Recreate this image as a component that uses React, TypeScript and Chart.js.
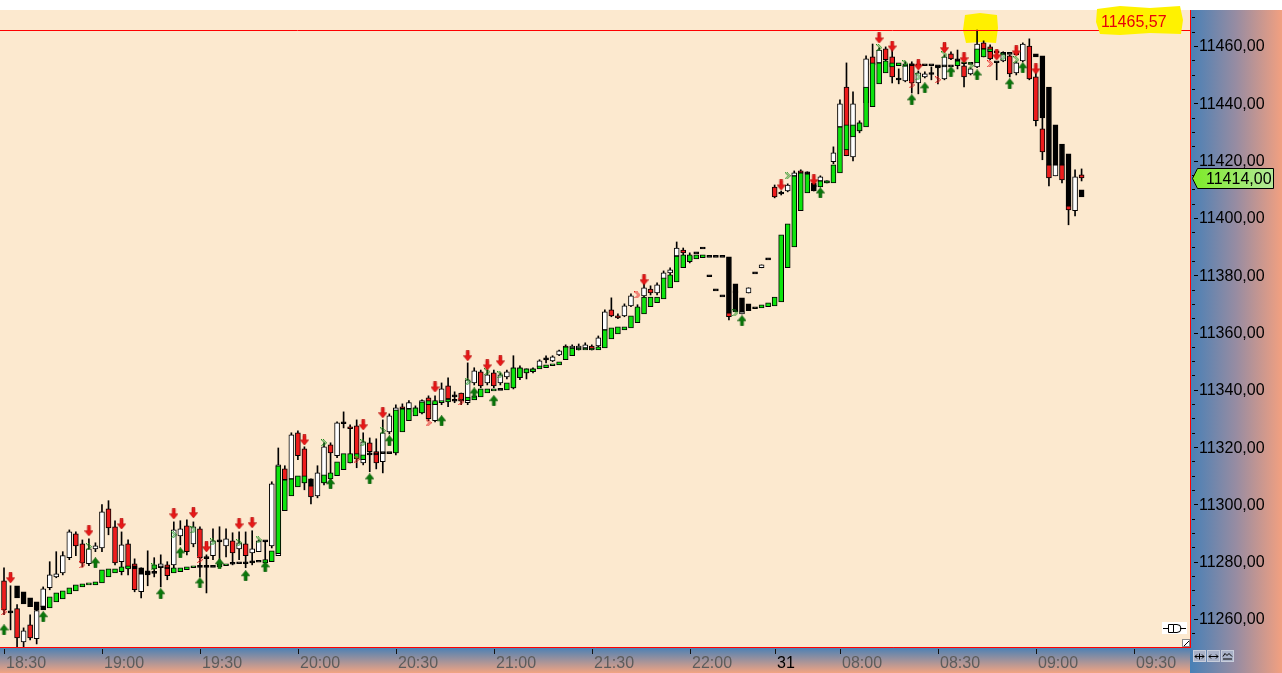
import React, { useEffect, useRef } from 'react';
import { Chart, registerables } from 'chart.js';

Chart.register(...registerables);

const W = 1282;
const H = 673;

// ---- price candles (2-minute bars) ----
const priceOpen = [
  11273.3, 11262.5, 11263.6, 11252.0, 11258.0, 11253.1, 11264.3, 11270.9, 11274.7, 11276.1,
  11281.4, 11289.7, 11286.2, 11279.3, 11284.5, 11284.8, 11298.5, 11292.2, 11280.0, 11286.2,
  11279.3, 11269.5, 11276.1, 11276.3, 11277.9, 11278.9, 11278.9, 11289.0, 11292.5, 11286.2,
  11291.5, 11281.4, 11282.1, 11287.3, 11285.5, 11287.3, 11284.5, 11286.2, 11283.1, 11283.5,
  11287.3, 11285.5, 11282.1, 11312.4, 11308.9, 11325.0, 11319.4, 11306.5, 11303.0, 11307.5,
  11320.8, 11317.0, 11328.5, 11327.1, 11327.4, 11314.5, 11321.5, 11318.4, 11314.9, 11325.3,
  11318.0, 11334.1, 11333.4, 11332.3, 11331.9, 11337.2, 11329.2, 11335.5, 11341.4, 11337.9,
  11338.9, 11335.5, 11342.4, 11346.3, 11342.4, 11345.9, 11342.4, 11344.5, 11340.7, 11344.2,
  11345.9, 11346.3, 11348.0, 11350.8, 11350.1, 11352.2, 11355.3, 11354.6, 11354.6, 11354.6,
  11355.3, 11355.3, 11360.9, 11367.9, 11365.8, 11365.8, 11369.3, 11364.4, 11372.8, 11375.2,
  11373.8, 11378.7, 11380.8, 11386.7, 11388.8, 11385.4, 11387.8, 11389.5, 11379.8, 11374.9,
  11372.8, 11366.9, 11374.2, 11366.5, 11373.8, 11380.8, 11382.6, 11385.7, 11410.8, 11408.7,
  11409.4, 11414.7, 11416.4, 11415.7, 11411.2, 11412.9, 11412.6, 11419.6, 11431.8, 11445.7,
  11421.3, 11430.4, 11440.2, 11456.2, 11454.1, 11459.0, 11456.2, 11448.5, 11447.8, 11453.8,
  11447.1, 11449.2, 11450.4, 11452.7, 11448.5, 11457.3, 11455.2, 11453.1, 11450.3, 11452.7,
  11461.1, 11459.7, 11454.5, 11454.8, 11456.6, 11450.6, 11454.8, 11460.0, 11449.2, 11431.1,
  11418.5, 11414.7, 11418.5, 11404.2, 11402.5, 11415.0,
];
const priceHigh = [
  11277.9, 11271.6, 11265.0, 11256.9, 11261.5, 11263.6, 11271.2, 11280.0, 11283.5, 11283.5,
  11291.1, 11290.4, 11287.6, 11288.0, 11286.6, 11299.9, 11301.3, 11294.3, 11290.4, 11287.6,
  11281.0, 11277.9, 11283.8, 11281.4, 11282.4, 11280.0, 11293.9, 11294.3, 11294.6, 11293.9,
  11292.2, 11282.4, 11291.5, 11292.2, 11291.5, 11290.1, 11290.4, 11290.4, 11290.8, 11287.6,
  11287.3, 11307.9, 11319.7, 11313.5, 11325.0, 11325.7, 11320.1, 11308.9, 11313.5, 11321.5,
  11321.5, 11328.8, 11332.3, 11327.8, 11329.5, 11325.0, 11323.2, 11322.9, 11329.5, 11331.6,
  11334.8, 11335.1, 11336.2, 11334.4, 11336.5, 11337.9, 11337.9, 11342.4, 11344.2, 11339.3,
  11338.9, 11349.4, 11347.7, 11346.9, 11346.9, 11346.9, 11345.9, 11346.9, 11351.9, 11348.4,
  11347.3, 11347.7, 11350.5, 11351.9, 11351.9, 11353.9, 11355.7, 11355.7, 11356.0, 11356.4,
  11355.7, 11358.8, 11367.9, 11372.1, 11366.5, 11370.0, 11373.5, 11369.7, 11377.3, 11376.3,
  11377.3, 11381.5, 11382.6, 11391.6, 11389.5, 11387.8, 11387.8, 11389.5, 11379.8, 11374.9,
  11372.8, 11366.9, 11374.2, 11367.2, 11375.6, 11380.8, 11383.6, 11385.7, 11411.5, 11409.4,
  11411.9, 11416.4, 11416.8, 11416.1, 11412.2, 11414.7, 11412.9, 11424.8, 11441.2, 11454.1,
  11444.0, 11433.9, 11456.6, 11460.7, 11459.4, 11459.7, 11459.7, 11452.0, 11454.5, 11454.5,
  11451.3, 11451.0, 11452.7, 11453.1, 11456.9, 11458.0, 11458.6, 11454.5, 11452.4, 11465.6,
  11461.8, 11460.4, 11454.5, 11458.0, 11456.9, 11454.5, 11461.1, 11462.5, 11451.0, 11434.9,
  11420.3, 11418.5, 11420.3, 11406.3, 11416.8, 11417.1,
];
const priceLow = [
  11261.5, 11256.2, 11250.3, 11250.3, 11252.7, 11251.3, 11263.6, 11270.2, 11274.4, 11275.4,
  11280.7, 11282.1, 11278.2, 11278.6, 11283.5, 11283.5, 11289.4, 11278.9, 11275.4, 11275.4,
  11269.5, 11267.4, 11271.6, 11274.7, 11271.2, 11273.7, 11277.9, 11285.9, 11282.4, 11285.2,
  11274.7, 11269.1, 11280.7, 11280.7, 11281.7, 11278.9, 11280.7, 11277.9, 11278.9, 11283.5,
  11278.2, 11284.8, 11282.1, 11307.9, 11308.2, 11315.6, 11305.1, 11300.2, 11302.3, 11306.8,
  11307.5, 11316.3, 11326.7, 11314.5, 11312.8, 11313.8, 11311.4, 11312.4, 11311.0, 11324.6,
  11317.3, 11333.0, 11333.0, 11331.6, 11331.6, 11329.2, 11328.8, 11334.8, 11334.1, 11335.5,
  11334.8, 11334.8, 11341.7, 11340.7, 11341.7, 11340.7, 11341.7, 11343.8, 11340.3, 11343.5,
  11343.8, 11345.9, 11347.7, 11349.4, 11349.8, 11351.9, 11354.3, 11354.3, 11353.9, 11354.3,
  11353.9, 11354.6, 11360.6, 11365.5, 11364.8, 11365.5, 11369.0, 11363.7, 11372.1, 11373.1,
  11373.1, 11378.0, 11380.1, 11386.1, 11386.7, 11384.3, 11387.8, 11389.5, 11379.8, 11374.9,
  11372.8, 11364.4, 11374.2, 11366.5, 11373.8, 11380.8, 11382.6, 11385.7, 11407.0, 11408.0,
  11409.1, 11414.3, 11415.4, 11415.4, 11409.4, 11412.6, 11412.2, 11418.9, 11431.4, 11421.7,
  11419.9, 11429.7, 11439.1, 11451.7, 11453.8, 11454.5, 11447.1, 11446.8, 11447.5, 11443.6,
  11443.3, 11448.9, 11448.2, 11446.8, 11448.2, 11455.2, 11452.0, 11445.7, 11449.9, 11452.4,
  11456.2, 11455.2, 11448.2, 11454.5, 11449.2, 11449.9, 11454.5, 11448.2, 11432.1, 11420.3,
  11411.2, 11414.7, 11412.2, 11397.6, 11400.7, 11412.9,
];
const priceClose = [
  11263.2, 11262.5, 11253.4, 11255.9, 11253.4, 11262.9, 11270.5, 11275.4, 11275.8, 11282.1,
  11290.4, 11285.5, 11279.6, 11284.5, 11285.5, 11297.4, 11291.8, 11279.6, 11285.9, 11277.9,
  11270.2, 11275.8, 11276.1, 11276.3, 11279.3, 11275.1, 11291.1, 11291.5, 11283.5, 11292.2,
  11281.4, 11281.4, 11287.3, 11287.3, 11288.0, 11283.1, 11286.6, 11282.1, 11284.5, 11287.3,
  11287.3, 11307.2, 11313.8, 11308.6, 11324.3, 11317.0, 11307.5, 11302.6, 11311.0, 11320.1,
  11318.0, 11328.5, 11328.5, 11326.4, 11316.3, 11321.8, 11318.4, 11314.5, 11325.0, 11330.9,
  11333.7, 11333.4, 11335.5, 11333.7, 11336.2, 11329.9, 11335.5, 11340.3, 11336.8, 11337.9,
  11336.2, 11343.5, 11346.6, 11341.4, 11345.2, 11341.4, 11345.2, 11346.3, 11347.7, 11347.7,
  11347.3, 11347.3, 11350.1, 11350.8, 11351.5, 11353.6, 11354.6, 11355.3, 11355.3, 11355.7,
  11354.3, 11358.1, 11367.2, 11365.8, 11365.1, 11369.3, 11372.8, 11368.6, 11375.6, 11373.8,
  11376.6, 11380.8, 11381.9, 11389.5, 11387.8, 11386.7, 11387.8, 11389.5, 11379.8, 11374.9,
  11372.8, 11365.5, 11374.2, 11367.2, 11375.6, 11380.8, 11383.6, 11385.7, 11407.3, 11408.7,
  11411.5, 11415.7, 11415.7, 11415.7, 11411.2, 11414.3, 11412.6, 11422.7, 11439.8, 11421.7,
  11439.8, 11433.2, 11455.5, 11453.4, 11458.6, 11455.2, 11449.2, 11448.5, 11453.1, 11447.1,
  11450.6, 11450.3, 11450.4, 11452.7, 11456.2, 11455.5, 11455.2, 11449.2, 11452.0, 11460.7,
  11459.0, 11455.5, 11454.5, 11457.3, 11450.3, 11454.1, 11460.7, 11448.5, 11433.9, 11423.0,
  11414.0, 11418.5, 11413.3, 11402.8, 11414.3, 11414.0,
];

// ---- smoothed trend bars (green up / black down) ----
const smoothOpen = [
  null, null, 11271.6, 11269.5, 11267.4, 11266.0, 11264.6, 11263.9, 11266.0, 11267.0,
  11268.8, 11269.8, 11271.2, 11271.9, 11271.9, 11272.6, 11274.7, 11276.1, 11276.5, 11277.5,
  11278.6, 11277.9, 11276.8, 11277.5, 11278.6, 11278.2, 11276.1, 11276.5, 11277.2, 11277.9,
  11278.6, 11278.6, 11278.6, 11278.2, 11278.6, 11279.6, 11280.0, 11280.0, 11280.3, 11280.3,
  11279.6, 11280.0, 11282.8, 11297.8, 11303.0, 11306.1, 11307.5, 11308.9, null, 11307.5,
  11308.9, 11310.0, 11312.1, 11314.5, 11315.9, 11315.6, 11318.0, 11318.0, 11318.4, 11318.4,
  11318.0, 11325.3, 11329.2, 11330.9, 11331.9, 11334.8, 11334.8, 11335.5, 11335.8, 11336.5,
  11336.5, 11336.2, 11336.5, 11337.5, 11338.9, 11339.6, 11340.3, 11340.0, 11340.7, 11344.2,
  11345.9, 11346.3, 11347.3, 11347.7, 11348.4, 11348.7, 11350.5, 11351.9, 11353.9, 11353.9,
  11353.9, 11353.9, 11354.6, 11357.8, 11359.5, 11360.9, 11361.6, 11363.4, 11366.5, 11369.0,
  11370.4, 11371.7, 11375.6, 11377.7, 11382.6, 11384.7, 11385.7, 11386.1, 11386.7, 11386.7,
  11386.7, 11386.4, 11377.0, 11372.1, 11370.0, 11369.0, 11368.6, 11369.0, 11369.3, 11370.7,
  11382.6, 11389.9, 11402.5, 11408.7, 11412.2, 11410.8, 11412.2, 11412.2, 11415.7, 11423.7,
  11428.3, 11430.4, 11431.8, 11438.8, 11446.8, 11450.6, 11452.7, 11453.1, 11453.1, 11453.8,
  11453.8, 11453.8, 11453.8, 11453.4, 11453.4, 11453.4, 11453.1, 11453.8, 11454.1, 11454.1,
  11456.2, 11458.0, 11458.3, 11457.6, 11457.6, 11457.6, null, null, 11457.3, 11456.6,
  11445.7, 11432.5, 11425.8, 11422.4, null, 11409.8,
];
const smoothClose = [
  null, null, 11267.4, 11265.3, 11264.3, 11263.2, 11263.2, 11267.7, 11269.1, 11269.8,
  11270.9, 11271.9, 11272.3, 11272.6, 11273.0, 11277.2, 11277.5, 11277.5, 11278.2, 11278.6,
  11277.5, 11275.8, 11275.4, 11278.9, 11277.9, 11277.5, 11277.9, 11277.9, 11278.2, 11278.6,
  11278.2, 11278.2, 11278.2, 11279.3, 11279.3, 11279.3, 11279.3, 11279.3, 11279.6, 11280.0,
  11280.7, 11283.8, 11313.5, 11308.6, 11308.9, 11310.0, 11310.0, 11306.5, null, 11310.3,
  11311.0, 11314.9, 11317.7, 11317.7, 11317.7, 11317.3, 11317.3, 11317.3, 11317.7, 11317.7,
  11333.0, 11333.4, 11333.4, 11333.7, 11335.8, 11336.2, 11336.2, 11336.2, 11336.8, 11336.2,
  11336.2, 11337.5, 11337.9, 11340.3, 11340.3, 11340.3, 11340.0, 11342.4, 11347.7, 11347.7,
  11347.3, 11347.3, 11348.4, 11348.7, 11349.1, 11349.8, 11355.0, 11354.6, 11354.6, 11354.6,
  11354.6, 11355.0, 11360.9, 11361.6, 11362.0, 11362.0, 11365.8, 11369.0, 11372.4, 11372.4,
  11372.4, 11379.1, 11380.1, 11386.7, 11387.1, 11387.1, 11387.1, 11387.1, 11386.4, 11386.4,
  11386.4, 11366.9, 11367.2, 11367.2, 11367.6, 11368.3, 11369.7, 11370.4, 11372.4, 11394.1,
  11397.9, 11414.7, 11415.7, 11415.4, 11409.4, 11412.9, 11412.9, 11418.5, 11431.8, 11432.5,
  11432.5, 11433.2, 11445.7, 11454.1, 11454.1, 11454.8, 11454.1, 11454.1, 11453.8, 11453.1,
  11453.1, 11453.1, 11453.1, 11452.7, 11452.7, 11452.7, 11454.8, 11454.5, 11453.8, 11459.0,
  11459.0, 11459.0, 11457.6, 11457.3, 11457.3, 11456.9, null, null, 11456.2, 11434.9,
  11418.5, 11418.5, 11418.5, 11404.2, null, 11407.3,
];

// ---- signal arrows ----
const sellSignalBar = [1, 13, 18, 26, 29, 31, 36, 38, 46, 55, 58, 66, 71, 74, 76, 98, 119, 124, 134, 136, 140, 144, 147, 152, 155, 158];
const sellSignalPrice = [11274.4, 11290.8, 11293.2, 11296.7, 11297.1, 11285.2, 11293.2, 11293.6, 11322.5, 11327.8, 11332.0, 11341.0, 11351.9, 11348.7, 11350.1, 11378.4, 11411.5, 11413.3, 11462.8, 11460.0, 11453.4, 11459.4, 11455.9, 11456.9, 11458.3, 11452.0];
const buySignalBar = [0, 6, 14, 24, 27, 30, 33, 37, 40, 50, 56, 59, 67, 72, 75, 113, 125, 139, 141, 145, 149, 154, 156];
const buySignalPrice = [11256.2, 11260.8, 11279.6, 11268.8, 11283.1, 11272.6, 11279.3, 11275.1, 11278.2, 11307.2, 11308.9, 11322.2, 11329.2, 11338.9, 11336.2, 11364.1, 11408.7, 11441.2, 11445.4, 11451.0, 11449.9, 11446.8, 11452.4];

// ---- small dotted markers ----
const greenMarkBar = [13, 23, 26, 29, 32, 36, 39, 49, 55, 58, 71, 74, 76, 112, 120, 134, 138, 140, 144, 148, 153, 155];
const greenMarkPrice = [11285.2, 11278.2, 11289.4, 11291.1, 11286.9, 11286.6, 11287.6, 11321.5, 11321.5, 11325.7, 11342.8, 11346.3, 11345.2, 11366.9, 11414.7, 11459.4, 11453.8, 11449.2, 11456.9, 11453.1, 11456.2, 11455.2];
const redMarkBar = [0, 12, 30, 54, 65, 70, 97, 139, 143, 151];
const redMarkPrice = [11262.5, 11278.9, 11280.7, 11315.8, 11328.5, 11335.8, 11373.1, 11446.4, 11448.2, 11453.8];

// ---- axes ----
const xTickBar = [0, 15, 30, 45, 60, 75, 90, 105, 118, 128, 143, 158, 173];
const xTickLabels = ['18:30', '19:00', '19:30', '20:00', '20:30', '21:00', '21:30', '22:00', '31', '08:00', '08:30', '09:00', '09:30'];
const yLabelValues = [11260, 11280, 11300, 11320, 11340, 11360, 11380, 11400, 11420, 11440, 11460];
const yMinorStep = 5;
const xMin = -0.613;
const xMax = 181.6;
const yMin = 11250.23;
const yMax = 11472.57;
const alertLevel = 11465.57;
const lastPrice = 11414.0;

const BG = '#FCE9CF';
const FONT = '"Liberation Sans", Arial, sans-serif';

const fmt = (v: number) => v.toFixed(2).replace('.', ',');

function makeArrow(up: boolean, fill: string, edge: string) {
  const c = document.createElement('canvas');
  c.width = 9;
  c.height = 11;
  const g = c.getContext('2d')!;
  g.fillStyle = fill;
  g.strokeStyle = edge;
  g.lineWidth = 0.6;
  g.beginPath();
  if (!up) {
    g.moveTo(3, 0.5); g.lineTo(6, 0.5); g.lineTo(6, 5.5); g.lineTo(8.7, 5.5);
    g.lineTo(4.5, 10.7); g.lineTo(0.3, 5.5); g.lineTo(3, 5.5);
  } else {
    g.moveTo(3, 10.5); g.lineTo(6, 10.5); g.lineTo(6, 5.5); g.lineTo(8.7, 5.5);
    g.lineTo(4.5, 0.3); g.lineTo(0.3, 5.5); g.lineTo(3, 5.5);
  }
  g.closePath();
  g.fill();
  g.stroke();
  return c;
}

function makeMark(color: string) {
  const c = document.createElement('canvas');
  c.width = 6;
  c.height = 7;
  const g = c.getContext('2d')!;
  g.fillStyle = color;
  const px = [[0, 0], [2, 0], [1, 1], [3, 1], [2, 2], [4, 2], [3, 3], [5, 3], [2, 4], [4, 4], [1, 5], [3, 5], [0, 6], [2, 6]];
  px.forEach(([x, y]) => g.fillRect(x, y, 1, 1));
  return c;
}

function span(a: number, b: number, minH = 0.7) {
  if (Math.abs(a - b) < minH) {
    const m = (a + b) / 2;
    return [m - minH / 2, m + minH / 2];
  }
  return [a, b];
}

const decorPlugin = {
  id: 'decor',
  beforeDraw(chart: any) {
    const { ctx, chartArea: ca } = chart;
    ctx.save();
    ctx.fillStyle = '#FFFFFF';
    ctx.fillRect(0, 0, W, H);
    ctx.fillStyle = BG;
    ctx.fillRect(ca.left, ca.top, ca.right - ca.left, ca.bottom - ca.top);
    // right value panel
    let g = ctx.createLinearGradient(ca.right, 0, W, 0);
    g.addColorStop(0, '#4880B6');
    g.addColorStop(0.5, '#978CA2');
    g.addColorStop(1, '#F2A080');
    ctx.fillStyle = g;
    ctx.fillRect(ca.right, ca.top, W - ca.right, H - ca.top);
    // bottom time panel
    g = ctx.createLinearGradient(0, ca.bottom, 0, H);
    g.addColorStop(0, '#4880B6');
    g.addColorStop(1, '#F2A482');
    ctx.fillStyle = g;
    ctx.fillRect(0, ca.bottom, ca.right, H - ca.bottom);
    // yellow highlight near the top
    ctx.fillStyle = '#FFF000';
    ctx.beginPath();
    ctx.moveTo(965, 15); ctx.lineTo(980, 13); ctx.lineTo(997, 15); ctx.lineTo(998, 28);
    ctx.lineTo(996, 43); ctx.lineTo(982, 42); ctx.lineTo(966, 43); ctx.lineTo(963, 30);
    ctx.closePath();
    ctx.fill();
    ctx.restore();
  },
  afterDatasetsDraw(chart: any) {
    const { ctx, chartArea: ca, scales } = chart;
    const ys = scales.y;
    const xs = scales.x;
    ctx.save();
    // alert line
    const ya = Math.round(ys.getPixelForValue(alertLevel)) + 0.5;
    ctx.strokeStyle = '#FF0000';
    ctx.lineWidth = 1;
    ctx.beginPath();
    ctx.moveTo(ca.left, ya); ctx.lineTo(ca.right, ya);
    ctx.stroke();
    // borders
    ctx.beginPath();
    ctx.moveTo(ca.right + 0.5, ca.top); ctx.lineTo(ca.right + 0.5, ca.bottom + 1);
    ctx.moveTo(0, ca.bottom + 0.5); ctx.lineTo(ca.right + 1, ca.bottom + 0.5);
    ctx.stroke();

    // y ticks & labels
    ctx.strokeStyle = '#000';
    ctx.fillStyle = '#000';
    ctx.font = `16px ${FONT}`;
    ctx.textBaseline = 'middle';
    ctx.textAlign = 'left';
    for (let v = Math.ceil(yMin / yMinorStep) * yMinorStep; v <= yMax; v += yMinorStep) {
      const y = Math.round(ys.getPixelForValue(v)) + 0.5;
      ctx.beginPath();
      if (yLabelValues.includes(v)) {
        ctx.moveTo(ca.right + 4, y); ctx.lineTo(ca.right + 8, y);
      } else {
        ctx.moveTo(ca.right + 2, y); ctx.lineTo(ca.right + 5, y);
      }
      ctx.stroke();
    }
    yLabelValues.forEach((v) => {
      const y = ys.getPixelForValue(v);
      ctx.fillText(fmt(v), ca.right + 9, y + 1);
    });

    // last price tag
    const yp = Math.round(ys.getPixelForValue(lastPrice));
    const gl = ctx.createLinearGradient(ca.right + 2, 0, ca.right + 84, 0);
    gl.addColorStop(0, '#7CEB26');
    gl.addColorStop(1, '#B4E89A');
    ctx.fillStyle = gl;
    ctx.beginPath();
    ctx.moveTo(ca.right + 2.5, yp + 0.5);
    ctx.lineTo(ca.right + 7.5, yp - 9.5);
    ctx.lineTo(ca.right + 83.5, yp - 9.5);
    ctx.lineTo(ca.right + 83.5, yp + 10.5);
    ctx.lineTo(ca.right + 7.5, yp + 10.5);
    ctx.closePath();
    ctx.fill();
    ctx.strokeStyle = '#000';
    ctx.stroke();
    ctx.fillStyle = '#000';
    ctx.fillText(fmt(lastPrice), ca.right + 16, yp + 1.5);

    // x ticks & labels
    ctx.textBaseline = 'alphabetic';
    xTickBar.forEach((b, k) => {
      const x = Math.round(xs.getPixelForValue(b)) + 0.5;
      ctx.strokeStyle = '#111';
      ctx.beginPath();
      ctx.moveTo(x, ca.bottom + 2); ctx.lineTo(x, ca.bottom + 7);
      ctx.stroke();
      ctx.fillStyle = xTickLabels[k] === '31' ? '#000' : '#5C5C5C';
      ctx.fillText(xTickLabels[k], x + 1.5, ca.bottom + 21);
    });

    // alert value tag with yellow marker
    ctx.fillStyle = '#FFF200';
    ctx.beginPath();
    ctx.moveTo(1097, 9); ctx.lineTo(1120, 6); ctx.lineTo(1150, 8); ctx.lineTo(1180, 6);
    ctx.lineTo(1183, 20); ctx.lineTo(1181, 34); ctx.lineTo(1150, 33); ctx.lineTo(1120, 35);
    ctx.lineTo(1100, 34); ctx.lineTo(1096, 22);
    ctx.closePath();
    ctx.fill();
    ctx.fillStyle = '#E8000A';
    ctx.textAlign = 'left';
    ctx.fillText(fmt(alertLevel), 1101, 27);

    // small toolbar icon
    ctx.fillStyle = '#FFFFFF';
    ctx.fillRect(1162, 622, 25, 12);
    ctx.strokeStyle = '#000';
    ctx.beginPath();
    ctx.moveTo(1163, 628.5); ctx.lineTo(1168, 628.5);
    ctx.moveTo(1180, 628.5); ctx.lineTo(1186, 628.5);
    ctx.rect(1168.5, 624.5, 5, 8);
    ctx.moveTo(1173.5, 624.5); ctx.lineTo(1177, 624.5);
    ctx.arc(1177, 628.5, 4, -Math.PI / 2, Math.PI / 2);
    ctx.lineTo(1173.5, 632.5);
    ctx.stroke();
    // resize handle
    ctx.fillStyle = '#FFFFFF';
    ctx.fillRect(ca.right - 8, ca.bottom - 8, 8, 8);
    ctx.strokeStyle = '#888';
    ctx.strokeRect(ca.right - 7.5, ca.bottom - 7.5, 7, 7);
    ctx.strokeStyle = '#000';
    ctx.beginPath();
    ctx.moveTo(ca.right - 6, ca.bottom - 1); ctx.lineTo(ca.right - 1, ca.bottom - 6);
    ctx.stroke();
    // bottom right buttons
    for (let k = 0; k < 3; k++) {
      const bx = ca.right + 3 + k * 14;
      ctx.fillStyle = '#A9B2C8';
      ctx.fillRect(bx, ca.bottom + 3, 13, 12);
      ctx.strokeStyle = '#C8CEDC';
      ctx.strokeRect(bx + 0.5, ca.bottom + 3.5, 12, 11);
      ctx.strokeStyle = '#000';
      ctx.beginPath();
      const cy = ca.bottom + 9.5;
      if (k < 2) {
        ctx.moveTo(bx + 2, cy); ctx.lineTo(bx + 11, cy);
        ctx.moveTo(bx + 4, cy - 2); ctx.lineTo(bx + 2, cy); ctx.lineTo(bx + 4, cy + 2);
        ctx.moveTo(bx + 9, cy - 2); ctx.lineTo(bx + 11, cy); ctx.lineTo(bx + 9, cy + 2);
        if (k === 0) { ctx.moveTo(bx + 6.5, cy - 3); ctx.lineTo(bx + 6.5, cy + 3); }
      } else {
        ctx.moveTo(bx + 2, cy); ctx.lineTo(bx + 4, cy - 3); ctx.lineTo(bx + 6, cy - 1);
        ctx.lineTo(bx + 8, cy - 3); ctx.lineTo(bx + 11, cy);
        ctx.moveTo(bx + 2, cy + 2.5); ctx.lineTo(bx + 11, cy + 2.5);
      }
      ctx.stroke();
    }
    ctx.restore();
  },
};

export default function App() {
  const ref = useRef<HTMLCanvasElement>(null);

  useEffect(() => {
    const canvas = ref.current;
    if (!canvas) return;
    const bars = priceOpen.map((_, i) => i);

    const wickData = bars.map((i) => ({ x: i, y: [priceLow[i], priceHigh[i]] }));
    const bodyData = bars.map((i) => ({ x: i, y: span(priceOpen[i], priceClose[i]) }));
    const bodyColors = bars.map((i) =>
      priceClose[i] > priceOpen[i] ? '#FFFFFF' : priceClose[i] < priceOpen[i] ? '#EE1C1C' : '#000000'
    );
    const smoothBars = bars.filter((i) => smoothOpen[i] !== null && smoothClose[i] !== null);
    const smoothData = smoothBars.map((i) => ({ x: i, y: span(smoothOpen[i] as number, smoothClose[i] as number) }));
    const smoothColors = smoothBars.map((i) =>
      (smoothClose[i] as number) >= (smoothOpen[i] as number) ? '#0EE40E' : '#000000'
    );

    const downArrow = makeArrow(false, '#E81818', '#B00000');
    const upArrow = makeArrow(true, '#0A780A', '#045004');
    const greenMark = makeMark('#1C8C1C');
    const redMark = makeMark('#E41C1C');

    const chart = new Chart(canvas, {
      type: 'bar',
      data: {
        datasets: [
          {
            type: 'line',
            data: sellSignalBar.map((b, k) => ({ x: b, y: sellSignalPrice[k] })),
            showLine: false,
            pointStyle: downArrow as any,
            order: 0,
          } as any,
          {
            type: 'line',
            data: buySignalBar.map((b, k) => ({ x: b, y: buySignalPrice[k] })),
            showLine: false,
            pointStyle: upArrow as any,
            order: 0,
          } as any,
          {
            type: 'line',
            data: greenMarkBar.map((b, k) => ({ x: b, y: greenMarkPrice[k] })),
            showLine: false,
            pointStyle: greenMark as any,
            order: 0,
          } as any,
          {
            type: 'line',
            data: redMarkBar.map((b, k) => ({ x: b, y: redMarkPrice[k] })),
            showLine: false,
            pointStyle: redMark as any,
            order: 0,
          } as any,
          {
            type: 'bar',
            data: smoothData as any,
            backgroundColor: smoothColors,
            borderColor: '#000',
            borderWidth: 1,
            borderSkipped: false,
            barThickness: 5,
            grouped: false,
            order: 1,
          },
          {
            type: 'bar',
            data: bodyData as any,
            backgroundColor: bodyColors,
            borderColor: '#000',
            borderWidth: 1,
            borderSkipped: false,
            barThickness: 5,
            grouped: false,
            order: 2,
          },
          {
            type: 'bar',
            data: wickData as any,
            backgroundColor: '#000',
            borderWidth: 0,
            barThickness: 1,
            grouped: false,
            order: 3,
          },
        ],
      },
      options: {
        responsive: false,
        animation: false,
        devicePixelRatio: 1,
        events: [],
        layout: { autoPadding: false, padding: { left: 0, right: 92, top: 10, bottom: 26 } },
        plugins: { legend: { display: false }, tooltip: { enabled: false } },
        scales: {
          x: { type: 'linear', min: xMin, max: xMax, display: false, offset: false },
          y: { type: 'linear', min: yMin, max: yMax, display: false },
        },
      },
      plugins: [decorPlugin],
    });
    return () => chart.destroy();
  }, []);

  return (
    <div style={{ position: 'fixed', left: 0, top: 0, width: W, height: H }}>
      <canvas ref={ref} width={W} height={H} style={{ display: 'block', width: W, height: H }} />
    </div>
  );
}
